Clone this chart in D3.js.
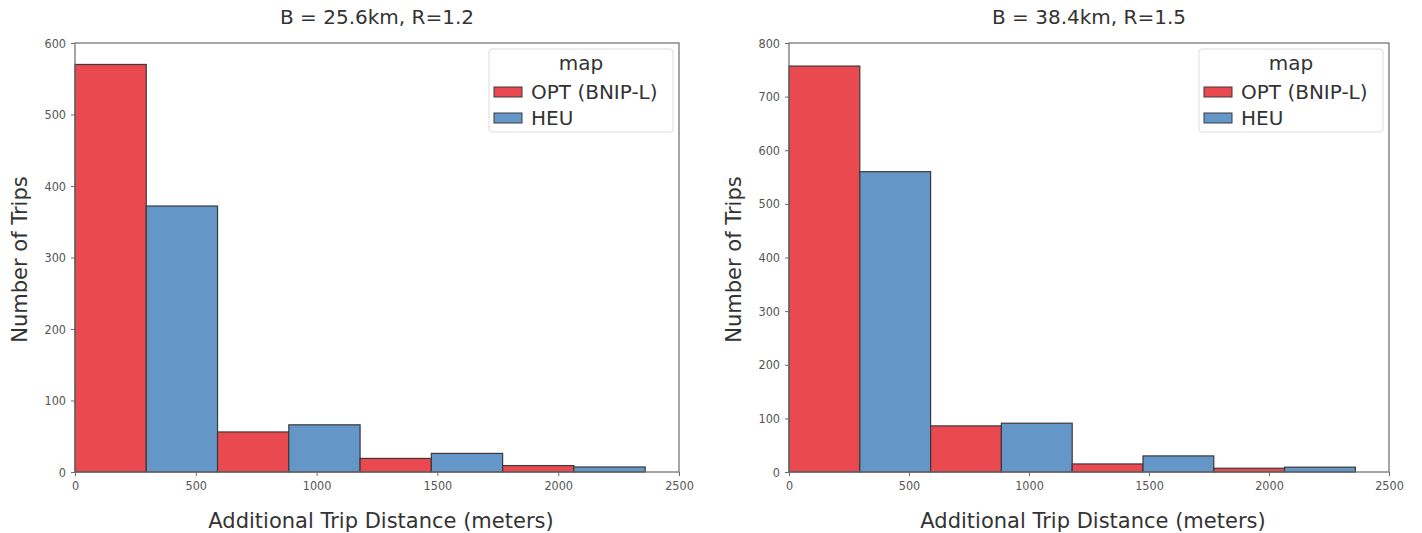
<!DOCTYPE html>
<html>
<head>
<meta charset="utf-8">
<script src="https://cdn.jsdelivr.net/npm/d3@7"></script>
<style>
  html, body { margin: 0; padding: 0; background: #fff; }
  svg { display: block; font-family: "DejaVu Sans", sans-serif; }
</style>
</head>
<body>
<svg id="chart" width="1422" height="533"></svg>
<script>
// Histogram bins (metres) shared by both panels
const binEdges = [0, 590, 1180, 1770, 2360];
const seriesNames = ["OPT (BNIP-L)", "HEU"];
const seriesColors = ["#e9494f", "#6496c8"];

// Panel 1: B = 25.6km, R=1.2
const leftTitle = "B = 25.6km, R=1.2";
const leftOpt = [570, 56, 19, 9];
const leftHeu = [372, 66, 26, 7];
const leftYTicks = [0, 100, 200, 300, 400, 500, 600];

// Panel 2: B = 38.4km, R=1.5
const rightTitle = "B = 38.4km, R=1.5";
const rightOpt = [757, 86, 15, 7];
const rightHeu = [560, 91, 30, 9];
const rightYTicks = [0, 100, 200, 300, 400, 500, 600, 700, 800];

const xTicks = [0, 500, 1000, 1500, 2000, 2500];
const xLabel = "Additional Trip Distance (meters)";
const yLabel = "Number of Trips";
const legendTitle = "map";

const svg = d3.select("#chart");

function panel(cfg) {
  const g = svg.append("g");
  const x = d3.scaleLinear().domain([0, 2500]).range([cfg.left, cfg.right]);
  const y = d3.scaleLinear().domain([0, cfg.yMax]).range([cfg.bottom, cfg.top]);

  // dodged bars: each bin is split between the two series
  const bars = [];
  for (let i = 0; i < binEdges.length - 1; i++) {
    const a = binEdges[i], b = binEdges[i + 1], m = (a + b) / 2;
    bars.push({ x0: a, x1: m, v: cfg.opt[i], s: 0 });
    bars.push({ x0: m, x1: b, v: cfg.heu[i], s: 1 });
  }
  g.selectAll("rect.bar").data(bars).join("rect")
    .attr("class", "bar")
    .attr("x", d => x(d.x0))
    .attr("width", d => x(d.x1) - x(d.x0))
    .attr("y", d => y(d.v))
    .attr("height", d => y(0) - y(d.v))
    .attr("fill", d => seriesColors[d.s])
    .attr("stroke", "#3a3a3a")
    .attr("stroke-width", 1.2);

  // frame
  g.append("rect")
    .attr("x", cfg.left).attr("y", cfg.top)
    .attr("width", cfg.right - cfg.left).attr("height", cfg.bottom - cfg.top)
    .attr("fill", "none").attr("stroke", "#6b6b6b").attr("stroke-width", 1.2);

  // axes
  const xAxis = g.append("g").attr("transform", `translate(0,${cfg.bottom})`)
    .call(d3.axisBottom(x).tickValues(xTicks).tickSize(4).tickPadding(5).tickFormat(d3.format("d")));
  const yAxis = g.append("g").attr("transform", `translate(${cfg.left},0)`)
    .call(d3.axisLeft(y).tickValues(cfg.yTicks).tickSize(4).tickPadding(5).tickFormat(d3.format("d")));
  [xAxis, yAxis].forEach(ax => {
    ax.select(".domain").remove();
    ax.selectAll(".tick line").attr("stroke", "#6b6b6b");
    ax.selectAll(".tick text").attr("fill", "#555").style("font-size", "12.5px")
      .style("font-family", "'DejaVu Sans Condensed', 'DejaVu Sans', sans-serif");
  });

  // title and axis labels
  const cx = (cfg.left + cfg.right) / 2;
  g.append("text").attr("x", cx).attr("y", 24).attr("text-anchor", "middle")
    .style("font-size", "20px").attr("fill", "#333").text(cfg.title);
  g.append("text").attr("x", cx + 4).attr("y", 528).attr("text-anchor", "middle")
    .style("font-size", "21px").attr("fill", "#333").text(xLabel);
  g.append("text")
    .attr("transform", `translate(${cfg.left - 48},${(cfg.top + cfg.bottom) / 2 + 2}) rotate(-90)`)
    .attr("text-anchor", "middle").style("font-size", "21px").attr("fill", "#333").text(yLabel);

  // legend
  const lx = cfg.right - 190, ly = cfg.top + 6;
  const lg = g.append("g").attr("transform", `translate(${lx},${ly})`);
  lg.append("rect").attr("x", 0).attr("y", 0).attr("width", 184).attr("height", 83)
    .attr("rx", 3).attr("fill", "#fff").attr("fill-opacity", 0.8)
    .attr("stroke", "#dcdcdc").attr("stroke-width", 1);
  lg.append("text").attr("x", 92).attr("y", 21).attr("text-anchor", "middle")
    .style("font-size", "20px").attr("fill", "#333").text(legendTitle);
  seriesNames.forEach((name, i) => {
    const yy = 38 + i * 26;
    lg.append("rect").attr("x", 5).attr("y", yy).attr("width", 28).attr("height", 10)
      .attr("fill", seriesColors[i]).attr("stroke", "#3a3a3a").attr("stroke-width", 1);
    lg.append("text").attr("x", 42).attr("y", yy + 12)
      .style("font-size", "20px").attr("fill", "#333").text(name);
  });
}

panel({ left: 75, right: 679, top: 43, bottom: 472, yMax: 600,
        yTicks: leftYTicks, opt: leftOpt, heu: leftHeu, title: leftTitle });
panel({ left: 789, right: 1389, top: 43, bottom: 472, yMax: 800,
        yTicks: rightYTicks, opt: rightOpt, heu: rightHeu, title: rightTitle });
</script>
</body>
</html>
